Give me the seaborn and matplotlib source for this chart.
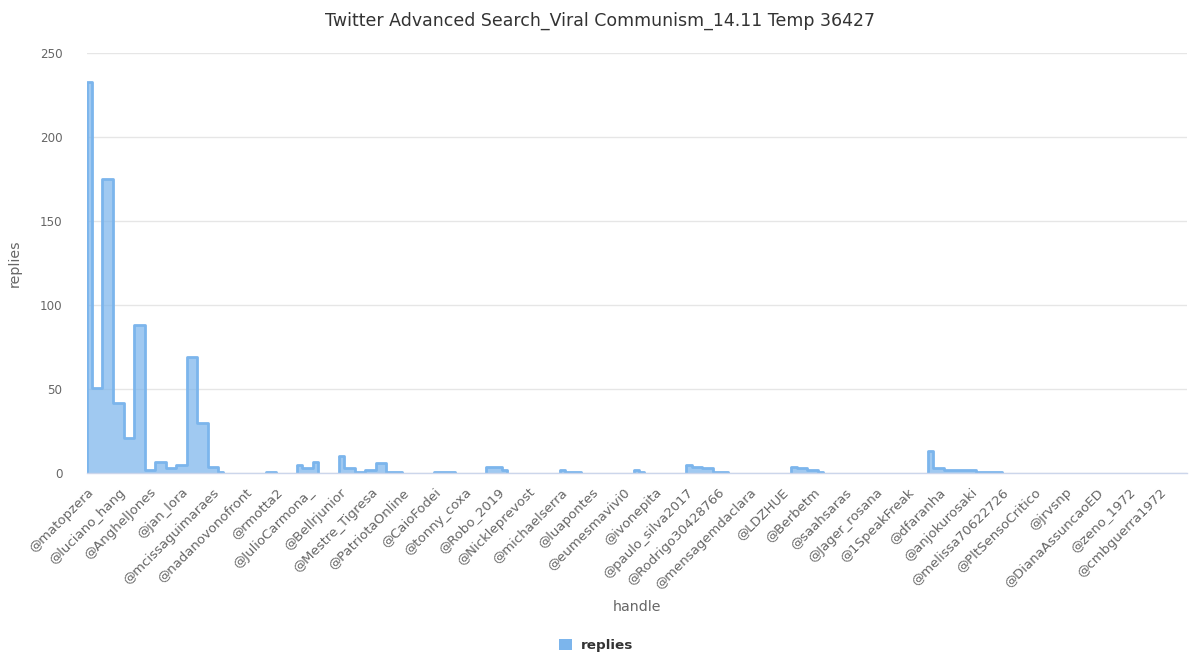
import numpy as np
import pandas as pd
import matplotlib
matplotlib.use("Agg")
import matplotlib.pyplot as plt
from matplotlib.patches import Patch
import seaborn as sns

# ---------------------------------------------------------------------------
# DATA  (None = handle without a plotted point, leaves a gap in the area)
# ---------------------------------------------------------------------------
replies = [
    233, 51, 175, 42, 21, 88, 2, 7, 3, 5, 69, 30, 4, 1,
    None, None, None,
    1, 1,
    None,
    5, 3, 7,
    None,
    10, 3, 1, 2, 6, 1, 1,
    None, None,
    1, 1, 1,
    None, None,
    4, 4, 2,
    None, None, None, None,
    2, 1, 1,
    None, None, None, None,
    2, 1,
    None, None, None,
    5, 4, 3, 1, 1,
    None, None, None, None, None,
    4, 3, 2, 1,
    None, None, None, None, None, None, None, None, None,
    13, 3, 2, 2, 2, 1, 1, 1,
    None, None, None, None, None, None, None, None, None,
    None, None, None, None, None, None, None, None, None,
]

# every third handle carries a label on the axis
shown_handles = [
    "@matopzera", "@luciano_hang", "@AnghelJones", "@jan_lora",
    "@mcissaguimaraes", "@nadanovonofront", "@rmotta2", "@JulioCarmona_",
    "@Bellrjunior", "@Mestre_Tigresa", "@PatriotaOnline", "@CaioFodei",
    "@tonny_coxa", "@Robo_2019", "@Nickleprevost", "@michaelserra",
    "@luapontes", "@eumesmavivi0", "@ivonepita", "@paulo_silva2017",
    "@Rodrigo30428766", "@mensagemdaclara", "@LDZHUE", "@Berbetm",
    "@saahsaras", "@Jager_rosana", "@1SpeakFreak", "@dfaranha",
    "@anjokurosaki", "@melissa70622726", "@PltSensoCritico", "@jrvsnp",
    "@DianaAssuncaoED", "@zeno_1972", "@cmbguerra1972",
]
label_step = 3

y_ticks = [0, 50, 100, 150, 200, 250]

# ---------------------------------------------------------------------------
# STYLE
# ---------------------------------------------------------------------------
sns.set_theme(style="white")
plt.rcParams["font.family"] = ["DejaVu Sans"]

line_color = "#7cb5ec"
grid_color = "#e6e6e6"
axis_color = "#ccd6eb"
label_color = "#666666"
title_color = "#333333"

df = pd.DataFrame({"pos": np.arange(len(replies)),
                   "replies": pd.array(replies, dtype="Float64")})
df["replies"] = df["replies"].astype(float)

# contiguous runs of non-missing points
df["run"] = df["replies"].isna().cumsum()
runs = [g for _, g in df.dropna().groupby("run")]

# ---------------------------------------------------------------------------
# PLOT
# ---------------------------------------------------------------------------
fig = plt.figure(figsize=(12, 6.7), dpi=100)
fig.set_facecolor("white")
ax = fig.add_axes([0.07225, 0.29358, 0.91692, 0.62731])
ax.set_facecolor("white")

for g in runs:
    ax.fill_between(g["pos"], g["replies"], step="mid",
                    color=line_color, alpha=0.72, linewidth=0, zorder=2)
    sns.lineplot(data=g, x="pos", y="replies", drawstyle="steps-mid",
                 color=line_color, linewidth=2, estimator=None, sort=False,
                 ax=ax, zorder=3)
    ends = g.iloc[[0, -1]]
    ax.vlines(ends["pos"], 0, ends["replies"], color=line_color,
              linewidth=2, zorder=3)

ax.set_xlim(0, 104.6)
ax.set_ylim(0, 250)
ax.set_yticks(y_ticks)
ax.yaxis.grid(True, color=grid_color, linewidth=1)
ax.set_axisbelow(True)

tick_pos = np.arange(len(shown_handles)) * label_step
ax.set_xticks(tick_pos)
ax.set_xticklabels(shown_handles, rotation=45, ha="right",
                   rotation_mode="anchor", fontsize=9.5, color=label_color)
ax.tick_params(axis="x", length=0, pad=9)
ax.tick_params(axis="y", length=0, pad=17.5, labelsize=8.6,
               labelcolor=label_color)

for side in ["top", "right", "left"]:
    ax.spines[side].set_visible(False)
ax.spines["bottom"].set_color(axis_color)
ax.spines["bottom"].set_linewidth(1)
ax.spines["bottom"].set_zorder(4)

ax.set_xlabel("")
ax.set_ylabel("")

fig.text(0.5, 0.969, "Twitter Advanced Search_Viral Communism_14.11 Temp 36427",
         fontsize=12.5, color=title_color, ha="center", va="center")
fig.text(0.012, 0.607, "replies", rotation=90, fontsize=10.2,
         color=label_color, ha="center", va="center")
fig.text(0.531, 0.0945, "handle", fontsize=10.2, color=label_color,
         ha="center", va="center")

fig.legend(handles=[Patch(facecolor=line_color, edgecolor="none")],
           labels=["replies"], loc="center", bbox_to_anchor=(0.497, 0.037),
           frameon=False, handlelength=0.9, handleheight=0.9,
           handletextpad=0.7,
           prop={"weight": "bold", "size": 9.7})
for t in fig.legends[0].get_texts():
    t.set_color(title_color)

fig.savefig("out.png", dpi=100, facecolor="white")
